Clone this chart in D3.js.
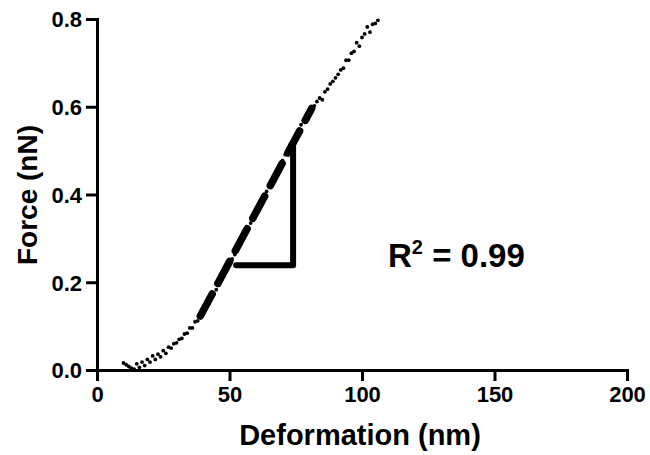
<!DOCTYPE html>
<html>
<head>
<meta charset="utf-8">
<script src="https://cdn.jsdelivr.net/npm/d3@7"></script>
<style>
  html, body { margin: 0; padding: 0; background: #fff; }
  svg { display: block; }
  text { font-family: "Liberation Sans", Arial, Helvetica, sans-serif; font-weight: bold; fill: #000; }
</style>
</head>
<body>
<svg id="chart" width="650" height="455"></svg>
<script>
// ---- data ----
const deformation = [10,11,12,13,14,15,16,17,18,19,20,21,22,23,24,25,26,27,28,29,30,31,32,33,34,35,36,37,38,39,40,41,42,43,44,45,46,47,48,49,50,51,52,53,54,55,56,57,58,59,60,61,62,63,64,65,66,67,68,69,70,71,72,73,74,75,76,77,78,79,80,81,82,83,84,85,86,87,88,89,90,91,92,93,94,95,96,97,98,99,100,101,102,103,104,105,106];
const force = [0.016,0.012,0.008,0.004,0.002,0.014,0.006,0.018,0.010,0.024,0.018,0.032,0.024,0.036,0.030,0.044,0.038,0.052,0.050,0.060,0.062,0.070,0.072,0.082,0.084,0.096,0.096,0.110,0.112,0.124,0.134,0.141,0.153,0.161,0.172,0.183,0.193,0.205,0.215,0.229,0.239,0.253,0.263,0.277,0.287,0.301,0.311,0.325,0.335,0.349,0.359,0.373,0.383,0.397,0.407,0.421,0.431,0.445,0.455,0.469,0.477,0.491,0.501,0.515,0.523,0.537,0.547,0.559,0.569,0.581,0.590,0.598,0.602,0.612,0.620,0.616,0.634,0.640,0.652,0.658,0.666,0.674,0.684,0.688,0.706,0.706,0.722,0.726,0.746,0.738,0.758,0.766,0.782,0.770,0.788,0.790,0.797];
const fitX = [39, 81];
const fitY = [0.123, 0.596];
const triangleX = [52.5, 74, 74];
const triangleY = [0.239, 0.239, 0.508];
const xTicks = [0, 50, 100, 150, 200];
const yTicks = [0.0, 0.2, 0.4, 0.6, 0.8];
const xTitle = "Deformation (nm)";
const yTitle = "Force (nN)";

// ---- drawing ----
const svg = d3.select("#chart");
const x = d3.scaleLinear().domain([0, 200]).range([97, 627]);
const y = d3.scaleLinear().domain([0, 0.8]).range([370, 19]);

// data points
svg.append("g").selectAll("circle")
  .data(deformation.map((d, i) => [d, force[i]]))
  .join("circle")
  .attr("cx", d => x(d[0]))
  .attr("cy", d => y(d[1]))
  .attr("r", 1.9)
  .attr("fill", "#000");

// fit line (thick dashed)
const line = d3.line().x(d => x(d[0])).y(d => y(d[1]));
svg.append("path")
  .attr("d", line(fitX.map((d, i) => [d, fitY[i]])))
  .attr("fill", "none")
  .attr("stroke", "#000")
  .attr("stroke-width", 7.5)
  .attr("stroke-linecap", "round")
  .attr("stroke-dasharray", "25,12");

// slope triangle
svg.append("path")
  .attr("d", line(triangleX.map((d, i) => [d, triangleY[i]])))
  .attr("fill", "none")
  .attr("stroke", "#000")
  .attr("stroke-width", 6)
  .attr("stroke-linejoin", "round")
  .attr("stroke-linecap", "round");

// axes
const xAxis = d3.axisBottom(x).tickValues(xTicks).tickFormat(d3.format("d")).tickSizeOuter(0).tickSize(11).tickPadding(5);
const yAxis = d3.axisLeft(y).tickValues(yTicks).tickFormat(d3.format(".1f")).tickSizeOuter(0).tickSize(11).tickPadding(4);

const gx = svg.append("g").attr("transform", `translate(0,${y(0)})`).call(xAxis);
const gy = svg.append("g").attr("transform", `translate(${x(0)},0)`).call(yAxis);
[gx, gy].forEach(g => {
  g.select(".domain").attr("stroke", "#000").attr("stroke-width", 3);
  g.selectAll(".tick line").attr("stroke", "#000").attr("stroke-width", 3);
  g.selectAll(".tick text").attr("font-size", 22).attr("font-family", "Liberation Sans, Arial, sans-serif").attr("font-weight", "bold").attr("fill", "#000");
});
gy.selectAll(".tick text").attr("dy", "0.36em");

// axis titles
svg.append("text")
  .attr("x", 360).attr("y", 445)
  .attr("text-anchor", "middle")
  .attr("font-size", 29)
  .text(xTitle);
svg.append("text")
  .attr("transform", "translate(37,195) rotate(-90)")
  .attr("text-anchor", "middle")
  .attr("font-size", 28)
  .text(yTitle);

// R^2 annotation
const r2 = svg.append("text").attr("x", 388).attr("y", 267).attr("font-size", 33);
r2.append("tspan").text("R");
r2.append("tspan").attr("font-size", 20).attr("dy", -13).text("2");
r2.append("tspan").attr("dy", 13).text(" = 0.99");
</script>
</body>
</html>
